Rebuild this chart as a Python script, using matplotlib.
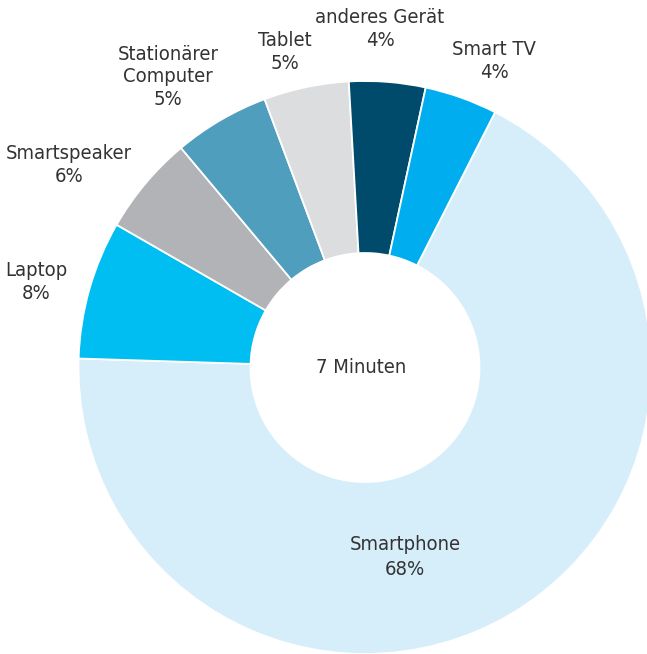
import matplotlib
matplotlib.use("Agg")
import matplotlib.pyplot as plt

plt.rcParams['font.family'] = ['DejaVu Sans']
plt.rcParams['font.stretch'] = 'condensed'

categories = ["Smartphone", "Laptop", "Smartspeaker", "Stationärer\nComputer",
              "Tablet", "anderes Gerät", "Smart TV"]
values = [68.0, 7.8, 5.6, 5.4, 4.8, 4.3, 4.1]
pct_labels = ["68%", "8%", "6%", "5%", "5%", "4%", "4%"]
center_text = "7 Minuten"

colors = ["#d6edfa", "#00bdf2", "#b1b3b6", "#4f9ebd", "#dcdddf", "#004b6b", "#00aeef"]

W, H = 647, 654
fig = plt.figure(figsize=(W / 100, H / 100), dpi=100)
ax = fig.add_axes([0, 0, 1, 1])

cx, cy = 365, H - 367.5
R = 286.5
hole = 114.5

ax.pie(values, colors=colors, startangle=63, counterclock=False,
       center=(cx, cy), radius=R, frame=True,
       wedgeprops=dict(width=R - hole, edgecolor='white', linewidth=1.3))
ax.set_xlim(0, W)
ax.set_ylim(0, H)
ax.set_aspect('equal')
ax.axis('off')

# label block centres (pixel coords, y from top) and line spacing
label_pos = [(405, 557), (36, 282), (69, 165), (168, 77), (285, 52), (380, 29), (494, 61)]
label_ls = [1.37, 1.24, 1.3, 1.24, 1.3, 1.3, 1.3]
text_color = "#333333"
for cat, pct, (lx, ly), ls in zip(categories, pct_labels, label_pos, label_ls):
    ax.text(lx, H - ly, f"{cat}\n{pct}", ha='center', va='center',
            fontsize=14.5, color=text_color, linespacing=ls, fontstretch='condensed')

ax.text(cx - 4, cy, center_text, ha='center', va='center', fontsize=14.5,
        color=text_color, fontstretch='condensed')

fig.savefig("out.png", dpi=100)
